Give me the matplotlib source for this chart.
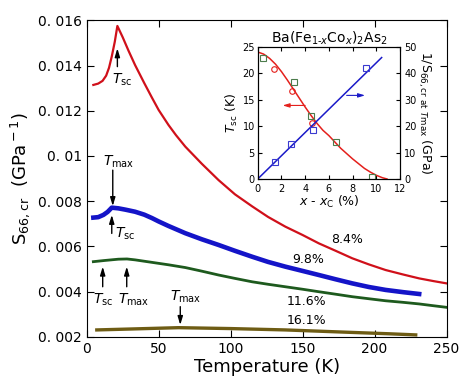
import numpy as np
import matplotlib
matplotlib.use("Agg")
import matplotlib.pyplot as plt

# main panel: S66,cr vs temperature for four Co concentrations
t_84 = [4.6, 8, 11, 13.5, 15.5, 17.4, 19.5, 21.3, 25, 29, 33.6, 40, 45.3, 50, 56.8, 62, 68.5, 80, 91.6,
        103, 114.9, 126, 138, 150, 161.3, 173, 184.5, 196, 207.7, 220, 231, 241, 250]
s_84 = [0.01314, 0.01320, 0.01332, 0.01355, 0.01390, 0.01440, 0.01505, 0.01575, 0.01525, 0.01466,
        0.01402, 0.01322, 0.01258, 0.01203, 0.01137, 0.01092, 0.01041, 0.00965, 0.00893, 0.00830,
        0.00777, 0.00730, 0.00687, 0.00650, 0.00613, 0.00580, 0.00547, 0.00520, 0.00495, 0.00475,
        0.00458, 0.00446, 0.00436]
t_98 = [4.6, 8, 11.6, 14.5, 17.4, 22, 27, 33.6, 40, 45.3, 50, 56.8, 68.5, 80, 91.6, 103, 114.9,
        126, 138, 150, 161.3, 173, 184.5, 196, 207.7, 220, 231]
s_98 = [0.00727, 0.00729, 0.00739, 0.00752, 0.00771, 0.00768, 0.00762, 0.00753, 0.00740, 0.00725,
        0.00710, 0.00690, 0.00658, 0.00631, 0.00606, 0.00580, 0.00554, 0.00531, 0.00510, 0.00491,
        0.00473, 0.00454, 0.00436, 0.00420, 0.00407, 0.00397, 0.00389]
t_116 = [4.6, 12, 22, 28, 33.6, 45.3, 57, 68.5, 80, 91.6, 103, 114.9, 126, 138, 150, 161.3, 173,
         184.5, 196, 207.7, 220, 231, 241, 250]
s_116 = [0.00532, 0.00537, 0.00543, 0.00544, 0.00540, 0.00529, 0.00518, 0.00506, 0.00490, 0.00473,
         0.00458, 0.00443, 0.00432, 0.00421, 0.00410, 0.00399, 0.00388, 0.00377, 0.00368, 0.00359,
         0.00352, 0.00345, 0.00337, 0.00330]
t_161 = [7, 30, 63.8, 100, 138, 180, 210, 228.6]
s_161 = [0.00230, 0.00234, 0.00240, 0.00236, 0.00230, 0.00220, 0.00213, 0.00208]

yticks = [0.002, 0.004, 0.006, 0.008, 0.01, 0.012, 0.014, 0.016]
ytick_labels = ["0. 002", "0. 004", "0. 006", "0. 008", "0. 01", "0. 012", "0. 014", "0. 016"]
xticks = [0, 50, 100, 150, 200, 250]

# inset: Tsc and 1/S66 vs x - xc
tsc_fit_x = [0, 0.5, 1, 1.5, 2, 2.5, 3, 3.5, 4, 4.5, 5, 5.5, 6, 6.5, 7, 7.5, 8, 8.5, 9, 9.5, 10, 10.5, 10.9]
tsc_fit_y = [24.0, 23.6, 22.8, 21.7, 20.3, 18.7, 17.0, 15.3, 13.6, 12.0, 10.5, 9.2, 8.2, 7.0, 5.8,
             4.8, 3.8, 2.9, 2.0, 1.3, 0.7, 0.25, 0.0]
tsc_circ_x = [1.4, 2.87, 4.6]
tsc_circ_y = [20.75, 16.6, 10.6]
tsc_sq_x = [0.48, 3.06, 4.5, 6.57, 9.66]
tsc_sq_y = [22.9, 18.3, 11.9, 6.9, 0.4]
inv_sq_x = [1.46, 2.78, 4.66, 9.1]
inv_sq_y = [6.3, 13.1, 18.7, 41.8]
inv_fit_x = [0, 10.45]
inv_fit_y = [0, 45.9]

fig = plt.figure(figsize=(4.63, 3.86), dpi=100)
ax = fig.add_axes([0.1873, 0.1277, 0.7771, 0.8197])

ax.plot(t_84, s_84, color='#d0101a', lw=1.6)
ax.plot(t_98, s_98, color='#1414c8', lw=3.3)
ax.plot(t_116, s_116, color='#1e5a1e', lw=2.0)
ax.plot(t_161, s_161, color='#6e5c14', lw=2.4)

ax.set_xlim(0, 250)
ax.set_ylim(0.002, 0.016)
ax.set_xticks(xticks)
ax.set_yticks(yticks)
ax.set_yticklabels(ytick_labels)
ax.tick_params(direction='in', top=True, right=True, length=5, labelsize=10)
ax.set_xlabel('Temperature (K)', fontsize=13, labelpad=2)
ax.set_ylabel(r'S$_{\rm 66,cr}$  (GPa$^{\rm -1}$)', fontsize=13, labelpad=4)

# labels for the curves
ax.text(181, 0.00631, '8.4%', ha='center', va='center', fontsize=9)
ax.text(154, 0.00543, '9.8%', ha='center', va='center', fontsize=9)
ax.text(152.5, 0.00355, '11.6%', ha='center', va='center', fontsize=9)
ax.text(152.5, 0.00271, '16.1%', ha='center', va='center', fontsize=9)

arr = dict(arrowstyle='-|>,head_length=0.5,head_width=0.15', color='k', lw=1.0, shrinkA=0, shrinkB=0)
tsc = r'$T_{\rm sc}$'
tmax = r'$T_{\rm max}$'
# red Tsc
ax.annotate('', xy=(21.3, 0.01476), xytext=(21.3, 0.01395), arrowprops=arr)
ax.text(24.6, 0.01335, tsc, ha='center', va='center', fontsize=10)
# blue Tmax and Tsc
ax.annotate('', xy=(18.1, 0.00778), xytext=(18.1, 0.00937), arrowprops=arr)
ax.text(22, 0.00975, tmax, ha='center', va='center', fontsize=10)
ax.annotate('', xy=(17.4, 0.00739), xytext=(17.4, 0.00657), arrowprops=arr)
ax.text(26.7, 0.00655, tsc, ha='center', va='center', fontsize=10)
# green Tsc and Tmax
ax.annotate('', xy=(11.1, 0.0051), xytext=(11.1, 0.00421), arrowprops=arr)
ax.text(11.4, 0.00362, tsc, ha='center', va='center', fontsize=10)
ax.annotate('', xy=(27.8, 0.0051), xytext=(27.8, 0.00421), arrowprops=arr)
ax.text(32.3, 0.00362, tmax, ha='center', va='center', fontsize=10)
# olive Tmax
ax.annotate('', xy=(65, 0.00252), xytext=(65, 0.00333), arrowprops=arr)
ax.text(69, 0.00375, tmax, ha='center', va='center', fontsize=10)

# inset
ins = fig.add_axes([0.5566, 0.5363, 0.3074, 0.3427])
ins.plot(tsc_fit_x, tsc_fit_y, color='#e4201c', lw=1.1)
ins.plot(tsc_circ_x, tsc_circ_y, 'o', mfc='none', mec='#e4201c', ms=4, mew=0.8)
ins.plot(tsc_sq_x, tsc_sq_y, 's', mfc='none', mec='#4c7c4c', ms=5, mew=0.8)
ins.set_xlim(0, 12)
ins.set_ylim(0, 25)
ins.set_xticks([0, 2, 4, 6, 8, 10, 12])
ins.set_yticks([0, 5, 10, 15, 20, 25])
ins.tick_params(direction='in', top=True, length=3, labelsize=7, pad=2)
ins.tick_params(axis='x', pad=3.5)
ins.set_xlabel(r'$x$ - $x_{\rm C}$ (%)', fontsize=9, labelpad=0)
ins.set_ylabel(r'$T_{\rm sc}$ (K)', fontsize=9, labelpad=2)
ins.set_title(r'Ba(Fe$_{1\text{-}x}$Co$_x$)$_2$As$_2$', fontsize=10, pad=3)
ins.annotate('', xy=(2.1, 13.9), xytext=(4.0, 13.9),
             arrowprops=dict(arrowstyle='-|>,head_length=0.4,head_width=0.12', color='#e4201c', lw=0.8,
                             shrinkA=0, shrinkB=0))

ins2 = ins.twinx()
ins2.plot(inv_fit_x, inv_fit_y, color='#1a1ac8', lw=1.1)
ins2.plot(inv_sq_x, inv_sq_y, 's', mfc='none', mec='#3a3ad0', ms=5, mew=0.8)
ins2.set_ylim(0, 50)
ins2.set_yticks([0, 10, 20, 30, 40, 50])
ins2.tick_params(direction='in', length=3, labelsize=7, pad=3)
ins2.set_ylabel(r'1/S$_{\rm 66,cr\ at\ }$$_{T\rm max}$ (GPa)', fontsize=9, rotation=270, labelpad=12)
ins2.annotate('', xy=(9.05, 31.6), xytext=(7.5, 31.6),
              arrowprops=dict(arrowstyle='-|>,head_length=0.4,head_width=0.12', color='#1a1ac8', lw=0.8,
                              shrinkA=0, shrinkB=0))

fig.savefig('out.png', dpi=100)
